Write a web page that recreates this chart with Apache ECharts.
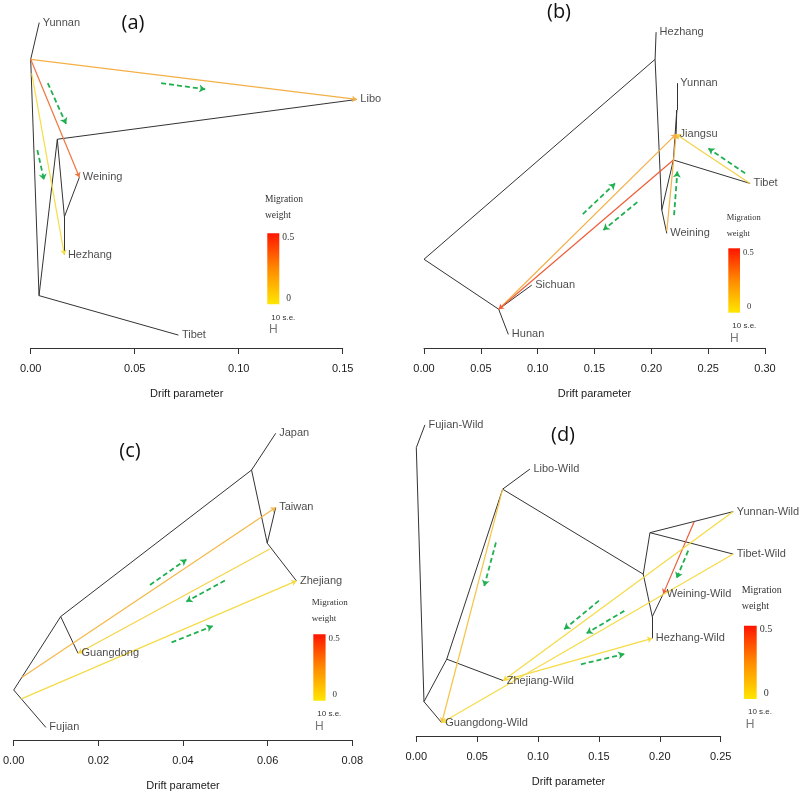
<!DOCTYPE html>
<html>
<head>
<meta charset="utf-8">
<title>TreeMix</title>
<script src="https://cdn.jsdelivr.net/npm/echarts@6/dist/echarts.min.js"></script>
<style>
  html, body { margin: 0; background: #fff; }
  #chart { width: 799px; height: 807px; }
</style>
</head>
<body>
<div id="chart"></div>
<script>
// ---- panel (a) ----  x = drift parameter, y = vertical position (0-100)
var aTips = [['Yunnan', 0.0041, 95.7], ['Libo', 0.1568, 73.1], ['Weining', 0.0234, 50.2], ['Hezhang', 0.0162, 27.4], ['Tibet', 0.0710, 3.8]];
var aNodes = [['r', 0.0, 84.9], ['n1', 0.0040, 15.4], ['n2', 0.0128, 61.4], ['n3', 0.0162, 38.6], ['m1', 0.0005, 80.8]];
var aTree = [['r', 'Yunnan'], ['r', 'n1'], ['n1', 'Tibet'], ['n1', 'n2'], ['n2', 'Libo'], ['n2', 'n3'], ['n3', 'Weining'], ['n3', 'Hezhang']];
var aMig = [['r', 'Libo', 0.20], ['r', 'Weining', 0.36], ['m1', 'Hezhang', 0.02]];
var aArrows = [[0.0627, 77.9, 0.0839, 76.1], [0.0082, 77.9, 0.0170, 65.9], [0.0032, 58.2, 0.0064, 49.4]];

// ---- panel (b) ----
var bTips = [['Hezhang', 0.2042, 92.9], ['Yunnan', 0.2224, 77.9], ['Jiangsu', 0.2218, 62.9], ['Tibet', 0.2869, 48.4], ['Weining', 0.2136, 33.7], ['Sichuan', 0.0948, 18.5], ['Hunan', 0.0742, 4.0]];
var bNodes = [['r', 0.0, 26.1], ['nh', 0.2033, 84.9], ['na', 0.2092, 40.6], ['nb', 0.2194, 55.3], ['nc', 0.2224, 70.0], ['ns', 0.0657, 11.4], ['m1', 0.2136, 34.4]];
var bTree = [['r', 'nh'], ['nh', 'Hezhang'], ['nh', 'na'], ['na', 'Weining'], ['na', 'nb'], ['nb', 'Tibet'], ['nb', 'nc'], ['nc', 'Yunnan'], ['nc', 'Jiangsu'], ['r', 'ns'], ['ns', 'Sichuan'], ['ns', 'Hunan']];
var bMig = [['ns', 'Jiangsu', 0.20], ['nb', 'ns', 0.42], ['Tibet', 'Jiangsu', 0.07], ['m1', 'Jiangsu', 0.20]];
var bArrows = [[0.1397, 39.4, 0.1681, 48.4], [0.1877, 42.9, 0.1578, 34.7], [0.2825, 51.4, 0.2502, 58.7], [0.2200, 39.1, 0.2229, 51.9]];

// ---- panel (c) ----
var cTips = [['Japan', 0.0619, 90.2], ['Taiwan', 0.0619, 68.4], ['Zhejiang', 0.0668, 46.8], ['Guangdong', 0.0152, 25.5], ['Fujian', 0.0076, 3.7]];
var cNodes = [['r', 0.0, 14.7], ['n1', 0.0111, 36.3], ['n2', 0.0562, 79.4], ['n3', 0.0599, 57.9], ['m1', 0.0019, 18.4], ['m2', 0.0605, 56.2], ['m3', 0.0018, 12.1]];
var cTree = [['r', 'Fujian'], ['r', 'n1'], ['n1', 'Guangdong'], ['n1', 'n2'], ['n2', 'Japan'], ['n2', 'n3'], ['n3', 'Taiwan'], ['n3', 'Zhejiang']];
var cMig = [['m1', 'Taiwan', 0.17], ['m2', 'Guangdong', 0.06], ['m3', 'Zhejiang', 0.03]];
var cArrows = [[0.0322, 45.6, 0.0408, 53.1], [0.0499, 46.9, 0.0408, 40.7], [0.0373, 28.7, 0.0470, 33.5]];

// ---- panel (d) ----
var dTips = [['Fujian-Wild', 0.0071, 91.5], ['Libo-Wild', 0.0933, 78.5], ['Yunnan-Wild', 0.2603, 66.0], ['Tibet-Wild', 0.2603, 53.5], ['Weining-Wild', 0.2028, 41.8], ['Hezhang-Wild', 0.1938, 28.7], ['Zhejiang-Wild', 0.0714, 16.3], ['Guangdong-Wild', 0.0209, 3.9]];
var dNodes = [['r', 0.0, 84.8], ['n1', 0.0063, 10.1], ['n2', 0.0250, 22.6], ['n3', 0.0709, 72.6], ['n4', 0.1864, 47.6], ['n5', 0.1919, 59.8], ['n6', 0.1938, 35.1], ['m1', 0.2282, 63.0]];
var dTree = [['r', 'Fujian-Wild'], ['r', 'n1'], ['n1', 'Guangdong-Wild'], ['n1', 'n2'], ['n2', 'Zhejiang-Wild'], ['n2', 'n3'], ['n3', 'Libo-Wild'], ['n3', 'n4'], ['n4', 'n5'], ['n5', 'Yunnan-Wild'], ['n5', 'Tibet-Wild'], ['n4', 'n6'], ['n6', 'Weining-Wild'], ['n6', 'Hezhang-Wild']];
var dMig = [['n3', 'Guangdong-Wild', 0.12], ['m1', 'Weining-Wild', 0.42], ['Yunnan-Wild', 'Zhejiang-Wild', 0.03], ['Tibet-Wild', 'Guangdong-Wild', 0.03], ['Zhejiang-Wild', 'Hezhang-Wild', 0.03]];
var dArrows = [[0.0654, 56.9, 0.0558, 44.1], [0.2233, 54.5, 0.2138, 46.4], [0.1500, 39.8, 0.1215, 31.4], [0.1708, 36.8, 0.1399, 30.2], [0.1352, 21.1, 0.1708, 24.1]];

var axisMax = [0.15, 0.30, 0.08, 0.25];
var axisStep = [0.05, 0.05, 0.02, 0.05];

// layout of the four plots (pixels)
var grids = [
  { left: 30.7, top: 8, width: 312, height: 340 },
  { left: 424, top: 8, width: 341, height: 340 },
  { left: 11, top: 400, width: 341.3, height: 340 },
  { left: 416.3, top: 396, width: 304.4, height: 340 }
];
var letters = [['(a)', 133, 23], ['(b)', 559, 12], ['(c)', 130, 451], ['(d)', 563, 435]];
// legend: migration text left/top, bar box, font size
var legends = [
  { tx: 265, ty: 199, bx: 267.3, by: 233.3, bw: 12, bh: 71, fs: 9.5 },
  { tx: 726.7, ty: 217.3, bx: 728.3, by: 248.3, bw: 11.7, bh: 64.4, fs: 8.5 },
  { tx: 311.7, ty: 602.3, bx: 313.3, by: 634.3, bw: 12.3, bh: 66.4, fs: 9 },
  { tx: 741.7, ty: 590, bx: 744, by: 625.7, bw: 12.7, bh: 73.3, fs: 10 }
];

var SANS = 'Liberation Sans, Arial, sans-serif';
var SERIF = 'Liberation Serif, Times New Roman, serif';

function migColor(w) {
  var t = Math.max(0, Math.min(1, w / 0.5));
  var a, b, f;
  if (t < 0.5) { a = [246, 226, 70]; b = [244, 164, 70]; f = t / 0.5; }
  else { a = [244, 164, 70]; b = [236, 60, 50]; f = (t - 0.5) / 0.5; }
  var c = a.map(function (v, i) { return Math.round(v + (b[i] - v) * f); });
  return 'rgb(' + c.join(',') + ')';
}

var panels = [
  [aTips, aNodes, aTree, aMig, aArrows],
  [bTips, bNodes, bTree, bMig, bArrows],
  [cTips, cNodes, cTree, cMig, cArrows],
  [dTips, dNodes, dTree, dMig, dArrows]
];

var option = {
  backgroundColor: '#fff',
  animation: false,
  grid: grids,
  xAxis: [],
  yAxis: [],
  series: [],
  graphic: []
};

panels.forEach(function (p, i) {
  var tips = p[0], nodes = p[1], tree = p[2], mig = p[3], arrows = p[4];
  var pos = {};
  tips.concat(nodes).forEach(function (n) { pos[n[0]] = [n[1], n[2]]; });

  option.xAxis.push({
    gridIndex: i, type: 'value', min: 0, max: axisMax[i], interval: axisStep[i],
    axisLine: { show: true, lineStyle: { color: '#333', width: 1 } },
    axisTick: { show: true, length: 6, lineStyle: { color: '#333' } },
    axisLabel: { showMinLabel: true, showMaxLabel: true, margin: 15, fontSize: 11, color: '#1a1a1a', fontFamily: SANS,
      formatter: function (v) { return v.toFixed(2); } },
    splitLine: { show: false },
    name: 'Drift parameter', nameLocation: 'middle', nameGap: 40,
    nameTextStyle: { fontSize: 11, color: '#1a1a1a', fontFamily: SANS }
  });
  option.yAxis.push({ gridIndex: i, type: 'value', min: 0, max: 100, show: false });

  option.series.push({
    type: 'lines', coordinateSystem: 'cartesian2d', xAxisIndex: i, yAxisIndex: i,
    clip: false, silent: true, z: 2,
    lineStyle: { color: '#333', width: 1, opacity: 1 },
    data: tree.map(function (e) { return { coords: [pos[e[0]], pos[e[1]]] }; })
  });
  option.series.push({
    type: 'lines', coordinateSystem: 'cartesian2d', xAxisIndex: i, yAxisIndex: i,
    clip: false, silent: true, z: 3,
    symbol: ['none', 'arrow'], symbolSize: 5,
    data: mig.map(function (e) {
      return { coords: [pos[e[0]], pos[e[1]]], lineStyle: { color: migColor(e[2]), width: 1.2, opacity: 1 } };
    })
  });
  option.series.push({
    type: 'lines', coordinateSystem: 'cartesian2d', xAxisIndex: i, yAxisIndex: i,
    clip: false, silent: true, z: 4,
    symbol: ['none', 'arrow'], symbolSize: 6,
    lineStyle: { color: '#20b050', width: 1.8, type: [5, 3], opacity: 1 },
    data: arrows.map(function (a) { return { coords: [[a[0], a[1]], [a[2], a[3]]] }; })
  });
  option.series.push({
    type: 'scatter', xAxisIndex: i, yAxisIndex: i, clip: false, silent: true, z: 5,
    symbolSize: 1, itemStyle: { color: 'rgba(0,0,0,0)' },
    label: { show: true, position: 'right', distance: 3, formatter: '{b}', fontSize: 11, color: '#1a1a1a', fontFamily: SANS },
    data: tips.map(function (t) { return { name: t[0], value: [t[1], t[2]] }; })
  });

  var L = letters[i];
  option.graphic.push({ type: 'text', x: L[1], y: L[2], style: { text: L[0], fontSize: 20, fontFamily: 'Open Sans, sans-serif', fill: '#111', align: 'center', verticalAlign: 'middle', textAlign: 'center', textVerticalAlign: 'middle' } });

  var g = legends[i];
  var tStyle = function (txt, fam, fs, col, al) {
    return { text: txt, fontSize: fs, fontFamily: fam, fill: col, align: al || 'left', verticalAlign: 'middle', textAlign: al || 'left', textVerticalAlign: 'middle' };
  };
  option.graphic.push(
    { type: 'text', x: g.tx, y: g.ty, style: tStyle('Migration', SERIF, g.fs, '#333') },
    { type: 'text', x: g.tx, y: g.ty + 16.5, style: tStyle('weight', SERIF, g.fs, '#333') },
    { type: 'rect', shape: { x: g.bx, y: g.by, width: g.bw, height: g.bh },
      style: { fill: new echarts.graphic.LinearGradient(0, 0, 0, 1, [
        { offset: 0, color: '#ff1500' }, { offset: 0.5, color: '#ff8a00' }, { offset: 1, color: '#ffe600' }]) } },
    { type: 'text', x: g.bx + g.bw + 3, y: g.by + 4, style: tStyle('0.5', SERIF, g.fs, '#333') },
    { type: 'text', x: g.bx + g.bw + 7, y: g.by + g.bh - 6, style: tStyle('0', SERIF, g.fs, '#333') },
    { type: 'text', x: g.bx + 4, y: g.by + g.bh + 13, style: tStyle('10 s.e.', SANS, 8, '#333') },
    { type: 'text', x: g.bx + 6, y: g.by + g.bh + 25.5, style: tStyle('H', SANS, 12, '#777', 'center') }
  );
});

var chart = echarts.init(document.getElementById('chart'));
chart.setOption(option);
</script>
</body>
</html>
